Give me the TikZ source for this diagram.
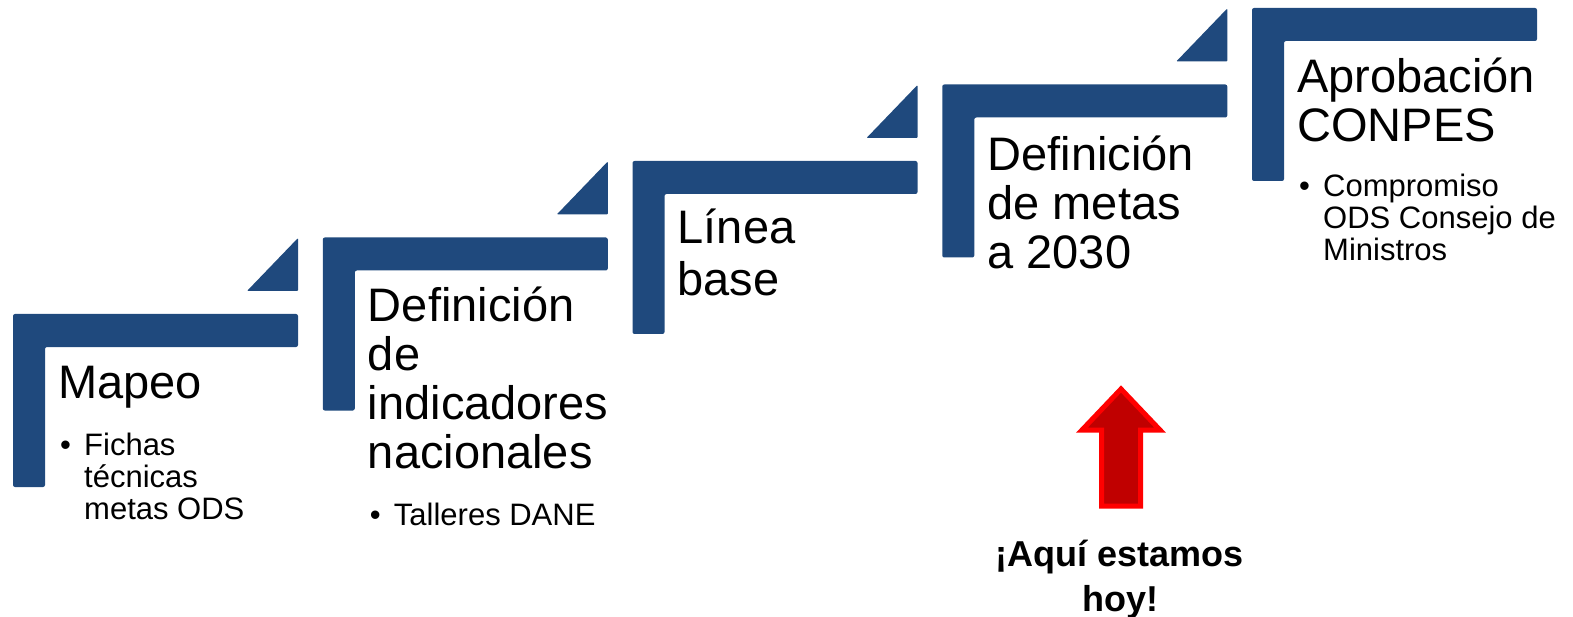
\documentclass[tikz,border=0pt]{standalone}
\usepackage{fontspec}
\setmainfont{Liberation Sans}
\usetikzlibrary{calc}

\definecolor{stepblue}{RGB}{31,73,125}
\definecolor{arrowred}{RGB}{192,0,0}

\begin{document}
\begin{tikzpicture}[x=1pt,y=-1pt,
    steptitle/.style={anchor=base west,inner sep=0pt,align=left,
        font={\fontsize{47}{49}\selectfont\lineskiplimit=-50pt}},
    stepbullet/.style={anchor=base west,inner sep=0pt,align=left,
        font={\fontsize{31}{32}\selectfont\lineskiplimit=-50pt}},
    herenote/.style={anchor=base,inner sep=0pt,align=center,
        font={\bfseries\fontsize{36}{45}\selectfont\lineskiplimit=-50pt}}]

    % Fix the page to the size of the reference
    \useasboundingbox (0,0) rectangle (1573,617);

    % Define the top-left corners of the five steps
    % Each step sits one stair up and to the right of the last one
    \foreach \i in {0,...,4}
        \coordinate (s\i) at (13+309.75*\i, 314-76.5*\i);

    % Draw the L-shaped bars of the steps
    \foreach \i in {0,...,4}
        \fill[stepblue,rounded corners=2pt] (s\i) ++(0,173) -- ++(0,-173)
            -- ++(285,0) -- ++(0,33) -- ++(-253,0) -- ++(0,140) -- cycle;

    % Draw the small triangles above the first four bars
    \foreach \i in {0,...,3}
        \fill[stepblue,rounded corners=1pt] (s\i) ++(234,-23) -- ++(51,0)
            -- ++(0,-53) -- cycle;

    % Add the step titles
    % The base of a node with several lines is the base of its last line
    \node[steptitle] (t1) at ($(s0)+(45,84)$) {Mapeo};
    \node[steptitle] (t2) at ($(s1)+(45,231)$) {Definición\\de\\indicadores\\nacionales};
    \node[steptitle,font={\fontsize{47}{52}\selectfont\lineskiplimit=-50pt}] (t3)
        at ($(s2)+(45,135)$) {Línea\\base};
    \node[steptitle] (t4) at ($(s3)+(45,184)$) {Definición\\de metas\\a 2030};
    \node[steptitle] (t5) at ($(s4)+(45,134)$) {Aprobación\\CONPES};

    % Add the bullet texts under the titles
    \node[stepbullet] (b1) at ($(s0)+(47,205)$)
        {\makebox[24pt][l]{•}Fichas\\\hspace*{24pt}técnicas\\\hspace*{24pt}metas ODS};
    \node[stepbullet] (b2) at ($(s1)+(47,288)$)
        {\makebox[24pt][l]{•}Talleres DANE};
    \node[stepbullet] (b5) at ($(s4)+(47,253)$)
        {\makebox[24pt][l]{•}Compromiso\\\hspace*{24pt}ODS Consejo de\\\hspace*{24pt}Ministros};

    % Draw the red arrow pointing up to the fourth step
    \filldraw[draw=red,fill=arrowred,line width=5pt,miter limit=4]
        (1101.5,506) -- (1101.5,430) -- (1082,430) -- (1121,389)
        -- (1160,430) -- (1140.5,430) -- (1140.5,506) -- cycle;

    % Add the note under the arrow
    \node[herenote] (here) at (1120,611) {¡Aquí estamos\\hoy!};

\end{tikzpicture}
\end{document}
